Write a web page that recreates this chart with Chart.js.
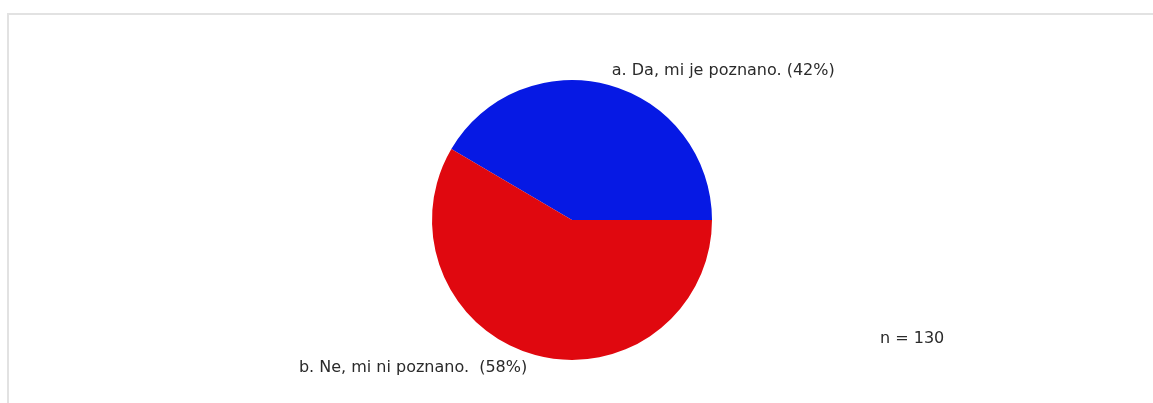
<!DOCTYPE html>
<html>
<head>
<meta charset="utf-8">
<script src="https://cdn.jsdelivr.net/npm/chart.js@4/dist/chart.umd.min.js"></script>
<style>
  html, body { margin: 0; padding: 0; background: #fff; overflow: hidden; }
  #frame {
    position: absolute; left: 7px; top: 13px; width: 1160px; height: 400px;
    border-top: 2px solid #e2e2e2; border-left: 2px solid #e2e2e2;
  }
  #chart { position: absolute; left: 0; top: 0; }
</style>
</head>
<body>
<div id="frame"></div>
<canvas id="chart" width="1153" height="403"></canvas>
<script>
const categories = ['a. Da, mi je poznano.', 'b. Ne, mi ni poznano. ']
const counts = [54, 76]
const sliceColors = ['#0619e4', '#e0080f']

const total = counts.reduce((s, v) => s + v, 0)
const percents = counts.map(v => Math.round(v / total * 100))

// draws slice labels next to the rim and the n = ... note
const labelPlugin = {
  id: 'sliceLabels',
  afterDraw(chart) {
    const ctx = chart.ctx
    const meta = chart.getDatasetMeta(0)
    ctx.save()
    ctx.font = '16px "DejaVu Sans", Verdana, sans-serif'
    ctx.fillStyle = '#2a2a2a'
    ctx.textBaseline = 'middle'
    meta.data.forEach((arc, i) => {
      const mid = (arc.startAngle + arc.endAngle) / 2
      const ax = arc.x + Math.cos(mid) * arc.outerRadius
      const ay = arc.y + Math.sin(mid) * arc.outerRadius
      const right = Math.cos(mid) >= 0
      const up = Math.sin(mid) < 0
      ctx.textAlign = right ? 'left' : 'right'
      const text = `${categories[i]} (${percents[i]}%)`
      ctx.fillText(text, ax + (right ? 3 : -8), ay + (up ? -14 : 13))
    })
    ctx.textAlign = 'left'
    const a = chart.chartArea
    ctx.fillText(`n = ${total}`, a.left + 880, a.bottom - 21)
    ctx.restore()
  }
}

new Chart(document.getElementById('chart'), {
  type: 'pie',
  data: {
    labels: categories,
    datasets: [{
      data: counts,
      backgroundColor: sliceColors,
      borderWidth: 0
    }]
  },
  options: {
    responsive: false,
    animation: false,
    rotation: 90 - 360 * counts[0] / total,
    layout: { padding: { top: 80, bottom: 43, left: 0, right: 9 } },
    plugins: {
      legend: { display: false },
      tooltip: { enabled: false }
    },
    events: []
  },
  plugins: [labelPlugin]
})
</script>
</body>
</html>
